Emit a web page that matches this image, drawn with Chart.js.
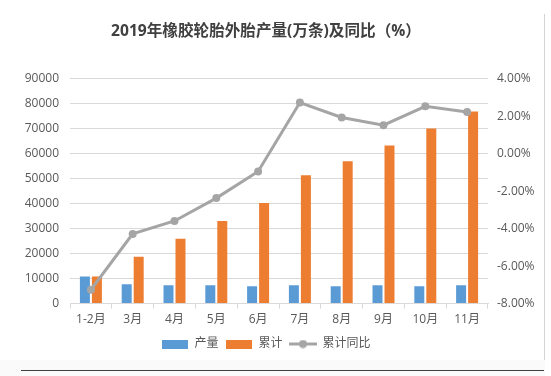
<!DOCTYPE html>
<html>
<head>
<meta charset="utf-8">
<script src="https://cdn.jsdelivr.net/npm/chart.js@4"></script>
<style>
  body { margin: 0; background: #fff; }
  #wrap { position: relative; width: 551px; height: 376px; }
  #edgeRight { position: absolute; left: 544px; top: 14px; width: 1px; height: 346px; background: #d4d4d4; }
  #footer { position: absolute; left: 0; top: 360px; width: 545px; height: 16px; background: #fafafa; }
  #edgeBottom { position: absolute; left: 21px; top: 370px; width: 523px; height: 1px; background: #404040; }
</style>
</head>
<body>
<div id="wrap">
  <div id="footer"></div>
  <canvas id="tyreChart" width="551" height="376"></canvas>
  <div id="edgeRight"></div>
  <div id="edgeBottom"></div>
</div>
<script>
// categories and values
const months = ['1-2月', '3月', '4月', '5月', '6月', '7月', '8月', '9月', '10月', '11月'];
const output = [10850, 7700, 7300, 7300, 6900, 7300, 6900, 7300, 6900, 7300];      // 产量
const cumulative = [10850, 18800, 26000, 33100, 40300, 51400, 57000, 63300, 70100, 76900]; // 累计
const yoyPct = [-7.26, -4.28, -3.59, -2.37, -0.95, 2.73, 1.93, 1.52, 2.53, 2.23];   // 累计同比 (%)
const seriesNames = ['产量', '累计', '累计同比'];

const blue = '#5B9BD5';
const orange = '#ED7D31';
const grey = '#A5A5A5';
const tickColor = '#595959';
const numFont = '"Open Sans", "Noto Sans CJK SC", sans-serif';

// little legend markers
function boxMarker(color) {
    const c = document.createElement('canvas');
    c.width = 26; c.height = 9;
    const g = c.getContext('2d');
    g.fillStyle = color;
    g.fillRect(0, 0, 26, 9);
    return c;
}
function lineMarker(color) {
    const c = document.createElement('canvas');
    c.width = 28; c.height = 9;
    const g = c.getContext('2d');
    g.strokeStyle = color;
    g.lineWidth = 3;
    g.beginPath();
    g.moveTo(0, 4.5);
    g.lineTo(28, 4.5);
    g.stroke();
    g.fillStyle = color;
    g.beginPath();
    g.arc(14, 4.5, 4, 0, Math.PI * 2);
    g.fill();
    return c;
}
const markers = [boxMarker(blue), boxMarker(orange), lineMarker(grey)];

const ctx = document.getElementById('tyreChart').getContext('2d');
new Chart(ctx, {
    type: 'bar',
    data: {
        labels: months,
        datasets: [{
            label: seriesNames[0],
            data: output,
            backgroundColor: blue,
            yAxisID: 'y',
            order: 2,
            categoryPercentage: 0.574,
            barPercentage: 0.833
        }, {
            label: seriesNames[1],
            data: cumulative,
            backgroundColor: orange,
            yAxisID: 'y',
            order: 2,
            categoryPercentage: 0.574,
            barPercentage: 0.833
        }, {
            type: 'line',
            label: seriesNames[2],
            data: yoyPct,
            borderColor: grey,
            backgroundColor: grey,
            borderWidth: 3,
            pointRadius: 4,
            pointBackgroundColor: grey,
            pointBorderWidth: 0,
            tension: 0,
            yAxisID: 'y1',
            order: 1
        }]
    },
    options: {
        responsive: false,
        animation: false,
        layout: { padding: { top: 0, left: 0, right: 19, bottom: 16 } },
        plugins: {
            title: {
                display: true,
                text: '2019年橡胶轮胎外胎产量(万条)及同比（%）',
                color: '#404040',
                font: { family: numFont, size: 15.6, weight: 'bold' },
                padding: { top: 22, bottom: 38 }
            },
            legend: {
                position: 'bottom',
                labels: {
                    usePointStyle: true,
                    pointStyleWidth: 27,
                    boxHeight: 9,
                    padding: 7,
                    color: tickColor,
                    font: { family: numFont, size: 12 },
                    generateLabels: (chart) => chart.data.datasets.map((ds, i) => ({
                        text: ds.label,
                        fillStyle: ds.backgroundColor,
                        strokeStyle: ds.backgroundColor,
                        lineWidth: 0,
                        pointStyle: markers[i],
                        fontColor: tickColor,
                        hidden: false,
                        datasetIndex: i
                    }))
                }
            },
            tooltip: { enabled: false }
        },
        scales: {
            x: {
                grid: {
                    offset: true,
                    drawOnChartArea: false,
                    drawTicks: true,
                    tickLength: 5,
                    color: '#d9d9d9'
                },
                border: { color: '#d9d9d9' },
                ticks: {
                    color: tickColor,
                    padding: 4,
                    maxRotation: 0,
                    font: { family: numFont, size: 12 }
                }
            },
            y: {
                position: 'left',
                min: 0,
                max: 90000,
                grid: { color: '#d9d9d9', drawTicks: false },
                border: { display: false },
                ticks: {
                    stepSize: 10000,
                    color: tickColor,
                    padding: 11,
                    font: { family: numFont, size: 12 },
                    callback: (v) => String(v)
                },
                afterFit: (scale) => { scale.width = 70; }
            },
            y1: {
                position: 'right',
                min: -8,
                max: 4,
                grid: { display: false, drawTicks: false },
                border: { display: false },
                ticks: {
                    stepSize: 2,
                    color: tickColor,
                    padding: 9,
                    font: { family: numFont, size: 12 },
                    callback: (v) => v.toFixed(2) + '%'
                },
                afterFit: (scale) => {
                    scale.width = 44;
                    // let the % labels run past the narrow axis box
                    scale._computeLabelArea = () => undefined;
                }
            }
        }
    }
});
</script>
</body>
</html>
